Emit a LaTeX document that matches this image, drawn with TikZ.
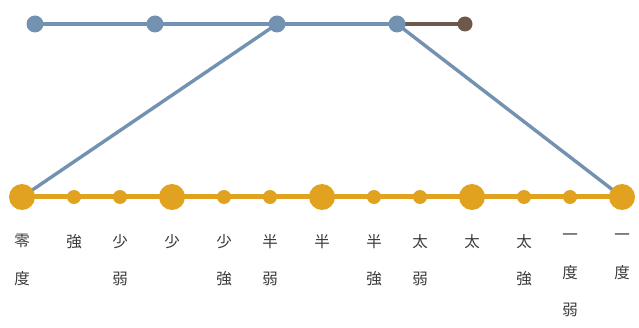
\documentclass[tikz,border=0pt]{standalone}
\usepackage{fontspec}
\newfontfamily\cjk{Noto Sans CJK JP}
\definecolor{blueg}{HTML}{7391B0}
\definecolor{brownc}{HTML}{6E5849}
\definecolor{gold}{HTML}{E0A21F}
\definecolor{txt}{HTML}{3A3A3A}
\tikzset{
  topdot/.style={circle,fill=blueg,inner sep=0pt,minimum size=17pt},
  browndot/.style={circle,fill=brownc,inner sep=0pt,minimum size=15pt},
  bigdot/.style={circle,fill=gold,inner sep=0pt,minimum size=26pt},
  smalldot/.style={circle,fill=gold,inner sep=0pt,minimum size=14pt},
  topline/.style={draw=blueg,line width=4pt},
  brownline/.style={draw=brownc,line width=4pt},
  goldline/.style={draw=gold,line width=5pt},
  slant/.style={draw=blueg,line width=3.4pt},
  lbl/.style={font=\cjk\fontsize{15.5}{37.5}\selectfont,text=txt,align=center,anchor=north,inner sep=0pt}
}
\begin{document}
\begin{tikzpicture}[x=1pt,y=-1pt]
\useasboundingbox (0,0) rectangle (639,328);
% top row
\coordinate (t1) at (35,24);
\coordinate (t2) at (155,24);
\coordinate (t3) at (277,24);
\coordinate (t4) at (397,24);
\coordinate (t5) at (465,24);
% bottom row
\foreach \i/\x in {1/22,2/74,3/120,4/172,5/224,6/270,7/322,8/374,9/420,10/472,11/524,12/570,13/622}
  \coordinate (b\i) at (\x,197);
\draw[slant] (t3) -- (b1);
\draw[slant] (t4) -- (b13);
\draw[topline] (t1) -- (t4);
\draw[brownline] (t4) -- (t5);
\draw[goldline] (b1) -- (b13);
\node[topdot] (n1) at (t1) {};
\node[topdot] (n2) at (t2) {};
\node[topdot] (n3) at (t3) {};
\node[topdot] (n4) at (t4) {};
\node[browndot] (n5) at (t5) {};
\foreach \i in {1,4,7,10,13} \node[bigdot] (d\i) at (b\i) {};
\foreach \i in {2,3,5,6,8,9,11,12} \node[smalldot] (d\i) at (b\i) {};
% labels
\node[lbl] (l1) at (22,234) {零\\度};
\node[lbl] (l2) at (74,234) {強};
\node[lbl] (l3) at (120,234) {少\\弱};
\node[lbl] (l4) at (172,234) {少};
\node[lbl] (l5) at (224,234) {少\\強};
\node[lbl] (l6) at (270,234) {半\\弱};
\node[lbl] (l7) at (322,234) {半};
\node[lbl] (l8) at (374,234) {半\\強};
\node[lbl] (l9) at (420,234) {太\\弱};
\node[lbl] (l10) at (472,234) {太};
\node[lbl] (l11) at (524,234) {太\\強};
\node[lbl] (l12) at (570,234) {一\\度\\弱};
\node[lbl] (l13) at (622,234) {一\\度};
\end{tikzpicture}
\end{document}
